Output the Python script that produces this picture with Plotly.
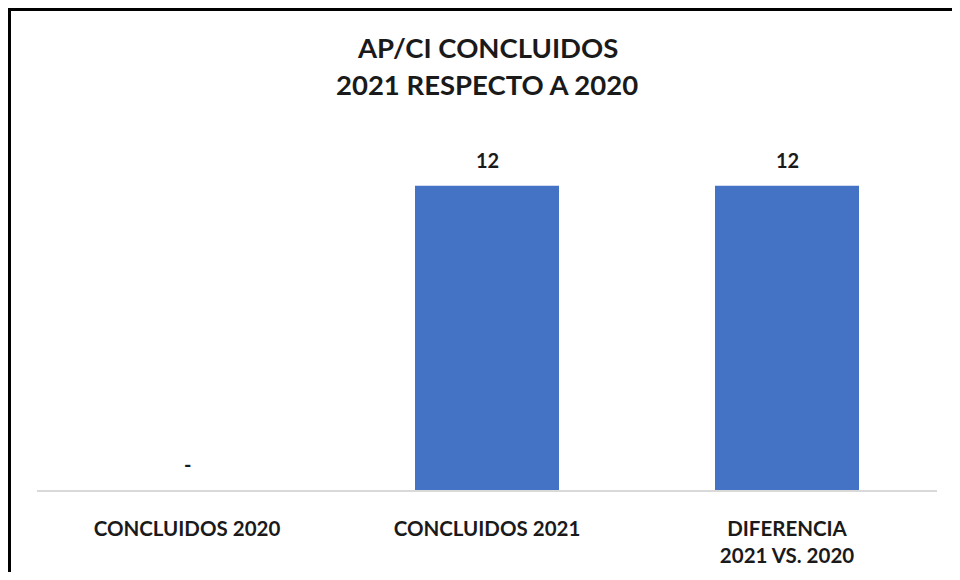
import plotly.graph_objects as go

categories = ["CONCLUIDOS 2020", "CONCLUIDOS 2021", "DIFERENCIA<br>2021 VS. 2020"]
values = [0, 12, 12]
value_labels = ["-", "12", "12"]
title_lines = ["AP/CI CONCLUIDOS", "2021 RESPECTO A 2020"]

# page has an 8px body margin, so the figure is placed at (8, 8)
OFF = 8
W, H = 960 - OFF, 572 - OFF
ML, MR, MT, MB = 29, 23, 127, 82
PW, PH = W - ML - MR, H - MT - MB

def px_x(px):
    return (px - OFF - ML) / PW

def px_y(py):
    return (H - MB - (py - OFF)) / PH

FONT = "Lato, 'Open Sans', sans-serif"
TXT = "#1a1a1a"

fig = go.Figure(go.Bar(
    x=categories, y=values,
    marker=dict(color="#4472C4", line=dict(width=0)),
    width=0.48, hoverinfo="skip",
))

for c, v, t in zip(categories, values, value_labels):
    fig.add_annotation(x=c, y=v, text=f"<b>{t}</b>", showarrow=False,
                       yanchor="middle", yshift=26,
                       font=dict(family=FONT, size=20, color=TXT))

for i, line in enumerate(title_lines):
    fig.add_annotation(xref="paper", yref="paper", x=px_x(487), y=px_y(47 + 38 * i),
                       text=f"<b>{line}</b>", showarrow=False,
                       xanchor="center", yanchor="middle",
                       font=dict(family=FONT, size=27.5, color=TXT))

# outer frame: only its left and top edges fall inside the picture
fig.add_shape(type="line", xref="paper", yref="paper",
              x0=px_x(9.5), x1=px_x(9.5), y0=px_y(640), y1=px_y(9.5),
              line=dict(color="black", width=3), layer="above")
fig.add_shape(type="line", xref="paper", yref="paper",
              x0=px_x(8), x1=px_x(1000), y0=px_y(9.5), y1=px_y(9.5),
              line=dict(color="black", width=3), layer="above")

fig.update_layout(
    width=W, height=H,
    margin=dict(l=ML, r=MR, t=MT, b=MB, pad=0, autoexpand=False),
    plot_bgcolor="white", paper_bgcolor="white",
    showlegend=False,
    bargap=0.52,
    xaxis=dict(
        tickvals=categories,
        ticktext=[f"<b>{c}</b>" for c in categories],
        tickfont=dict(family=FONT, size=20.5, color=TXT),
        showline=True, linecolor="#d9d9d9", linewidth=1.5,
        showgrid=False, ticks="", ticklabelstandoff=20, automargin=False,
    ),
    yaxis=dict(range=[0, 14], visible=False, showgrid=False, zeroline=False,
               automargin=False),
)

fig.write_html("out.html")
